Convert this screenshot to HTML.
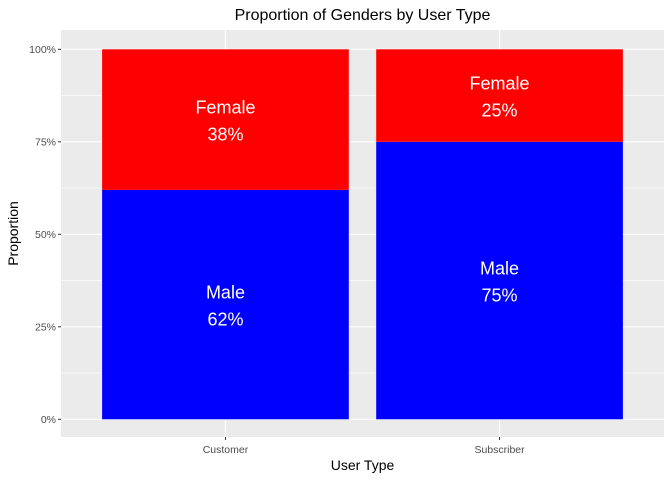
<!DOCTYPE html>
<html><head><meta charset="utf-8"><style>body{margin:0;background:#fff}svg{display:block;font-family:"Liberation Sans",sans-serif}</style></head>
<body>
<svg id="chart" width="672" height="480" xmlns="http://www.w3.org/2000/svg"></svg>
<script>
const categories = ["Customer", "Subscriber"];
const maleValues = [0.62, 0.75];
const femaleValues = [0.38, 0.25];
const maleLabels = ["62%", "75%"];
const femaleLabels = ["38%", "25%"];
const yTicks = [0, 0.25, 0.5, 0.75, 1];
const yTickLabels = ["0%", "25%", "50%", "75%", "100%"];
const yMinor = [0.125, 0.375, 0.625, 0.875];

const NS = "http://www.w3.org/2000/svg";
const svg = document.getElementById("chart");
const P = {l: 61, r: 664, t: 30, b: 437};
const y = v => 419.3 - v * 370;
const step = (P.r - P.l) / (categories.length + 0.2);
const x = i => P.l + step * (0.6 + i);
const bw = step * 0.9;
function mk(tag, attrs, txt) {
  const e = document.createElementNS(NS, tag);
  for (const k in attrs) e.setAttribute(k, attrs[k]);
  if (txt !== undefined) e.textContent = txt;
  svg.appendChild(e);
  return e;
}
let e;
e = mk("rect", {x: P.l, y: P.t, width: P.r - P.l, height: P.b - P.t, fill: "#EBEBEB"});


yMinor.forEach(v => {
  e = mk("line", {x1: P.l, x2: P.r, y1: y(v), y2: y(v), stroke: "#fff", "stroke-width": 0.6});
  
  
});
yTicks.forEach((v, i) => {
  e = mk("line", {x1: P.l, x2: P.r, y1: y(v), y2: y(v), stroke: "#fff", "stroke-width": 1.2});
  
  
  e = mk("line", {x1: P.l - 3, x2: P.l, y1: y(v), y2: y(v), stroke: "#333", "stroke-width": 1});
  
  
  e = mk("text", {x: P.l - 5, y: y(v) + 3.5, "text-anchor": "end", "font-size": 10.5, fill: "#4D4D4D"}, yTickLabels[i]);
  
  
});
categories.forEach((c, i) => {
  e = mk("line", {x1: x(i), x2: x(i), y1: P.t, y2: P.b, stroke: "#fff", "stroke-width": 1.2});
  
  
});
categories.forEach((c, i) => {
  const x0 = x(i) - bw / 2;
  e = mk("rect", {x: x0, y: y(maleValues[i]), width: bw, height: y(0) - y(maleValues[i]), fill: "#0000FF"});
  
  
  e = mk("rect", {x: x0, y: y(maleValues[i] + femaleValues[i]), width: bw, height: y(maleValues[i]) - y(maleValues[i] + femaleValues[i]), fill: "#FF0000"});
  
  
  const ym = y(maleValues[i] / 2), yf = y(maleValues[i] + femaleValues[i] / 2);
  e = mk("text", {x: x(i), y: ym - 6, "text-anchor": "middle", "font-size": 18, fill: "#fff"}, "Male");
  
  
  e = mk("text", {x: x(i), y: ym + 21, "text-anchor": "middle", "font-size": 18, fill: "#fff"}, maleLabels[i]);
  
  
  e = mk("text", {x: x(i), y: yf - 6, "text-anchor": "middle", "font-size": 18, fill: "#fff"}, "Female");
  
  
  e = mk("text", {x: x(i), y: yf + 21, "text-anchor": "middle", "font-size": 18, fill: "#fff"}, femaleLabels[i]);
  
  
  e = mk("line", {x1: x(i), x2: x(i), y1: P.b, y2: P.b + 3, stroke: "#333", "stroke-width": 1});
  
  
  e = mk("text", {x: x(i), y: P.b + 16, "text-anchor": "middle", "font-size": 10.5, fill: "#4D4D4D"}, c);
  
  
});
e = mk("text", {x: (P.l + P.r) / 2, y: 20, "text-anchor": "middle", "font-size": 16, fill: "#000"}, "Proportion of Genders by User Type");


e = mk("text", {x: (P.l + P.r) / 2, y: 470, "text-anchor": "middle", "font-size": 14, fill: "#000"}, "User Type");


e = mk("text", {x: 0, y: 0, "text-anchor": "middle", "font-size": 14, fill: "#000", transform: "translate(18," + (P.t + P.b) / 2 + ") rotate(-90)"}, "Proportion");


</script>
</body></html>
